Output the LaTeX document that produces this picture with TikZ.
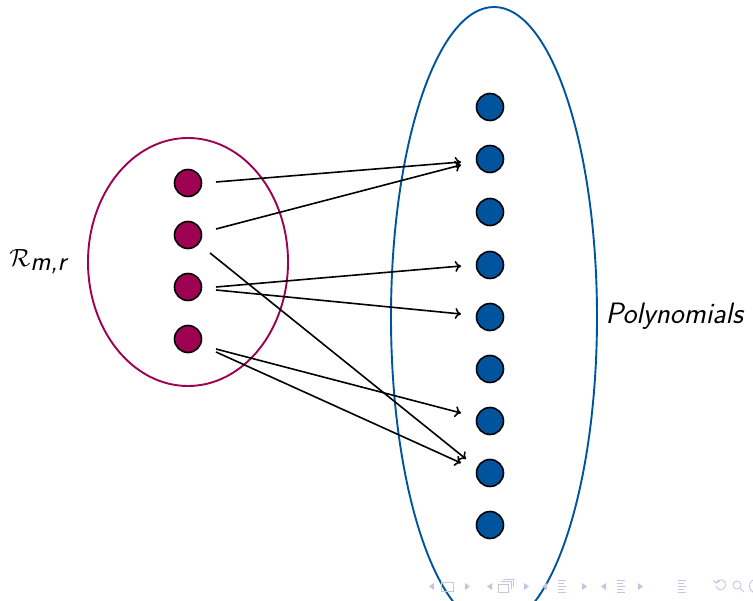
\documentclass[tikz,border=0pt]{standalone}
\usetikzlibrary{shapes.geometric,arrows.meta}
\definecolor{setred}{RGB}{158,0,82}
\definecolor{setblue}{RGB}{0,84,158}
\definecolor{navc}{RGB}{196,196,228}
\tikzset{
  setline/.style={ellipse,draw,line width=1.9pt,inner sep=0pt},
  dotnode/.style={circle,draw=black,line width=1.6pt,minimum size=27pt,inner sep=0pt},
  reddot/.style={dotnode,fill=setred},
  bluedot/.style={dotnode,fill=setblue},
  maparrow/.style={-{To[length=6pt,width=11pt]},line width=1.6pt,black},
  navsym/.style={navc,line width=0.9pt},
  labeltext/.style={font=\fontsize{27}{32}\selectfont\sffamily}
}
\begin{document}
\begin{tikzpicture}[x=1pt,y=-1pt]
\useasboundingbox (0,0) rectangle (753,601);

% the two sets
\node[setline,draw=setred,minimum width=200pt,minimum height=248pt] (R) at (188,262) {};
\node[setline,draw=setblue,minimum width=206pt,minimum height=620pt] (P) at (494,317) {};

% elements of R_{m,r}
\foreach \i/\y in {1/183,2/235,3/287,4/339}
  \node[reddot] (r\i) at (188,\y) {};

% polynomials
\foreach \i/\y in {1/107,2/159,3/212,4/265,5/317,6/369,7/421,8/473,9/525}
  \node[bluedot] (b\i) at (490,\y) {};

% set labels
\node[labeltext] (Rlab) at (38,262) {$\mathcal{R}_{\textsl{m,r}}$};
\node[labeltext,font=\fontsize{29.5}{34}\selectfont\sffamily,anchor=base west] (Plab) at (602,324) {\textsl{Polynomials}};

% the map
\draw[maparrow] ([shift={(28,-1)}]r1.center) -- ([shift={(-29,3)}]b2.center);
\draw[maparrow] ([shift={(28,-6)}]r2.center) -- ([shift={(-29,6)}]b2.center);
\draw[maparrow] ([shift={(22,18)}]r2.center) -- ([shift={(-24,-14)}]b8.center);
\draw[maparrow] ([shift={(28,0)}]r3.center) -- ([shift={(-29,1)}]b4.center);
\draw[maparrow] ([shift={(28,3)}]r3.center) -- ([shift={(-29,-3)}]b5.center);
\draw[maparrow] ([shift={(28,10)}]r4.center) -- ([shift={(-29,-8)}]b7.center);
\draw[maparrow] ([shift={(28,13)}]r4.center) -- ([shift={(-29,-10)}]b8.center);

% navigation symbols along the bottom edge
\begin{scope}[navsym]
  \fill (434,583) -- (429,586.5) -- (434,590) -- cycle;
  \draw (441,582) rectangle (453,591);
  \fill (465,583) -- (470,586.5) -- (465,590) -- cycle;
  \fill (492,583) -- (487,586.5) -- (492,590) -- cycle;
  \draw (498,584) rectangle (508,592);
  \draw (501,581.5) -- (511,581.5) -- (511,589) ;
  \draw (503,579) -- (513,579) -- (513,587);
  \fill (524,583) -- (529,586.5) -- (524,590) -- cycle;
  \fill (547,583) -- (542,586.5) -- (547,590) -- cycle;
  \foreach \yy/\w in {580/8,583/6,586/8,589/6,592/8}
    \draw (558,\yy) -- ++(\w,0);
  \fill (582,583) -- (587,586.5) -- (582,590) -- cycle;
  \fill (606,583) -- (601,586.5) -- (606,590) -- cycle;
  \foreach \yy/\w in {580/8,583/6,586/8,589/6,592/8}
    \draw (617,\yy) -- ++(\w,0);
  \fill (638,583) -- (643,586.5) -- (638,590) -- cycle;
  \foreach \yy/\w in {580/8,583/6,586/8,589/6,592/8}
    \draw (678,\yy) -- ++(\w,0);
  \draw (716,583) arc[start angle=160,end angle=-160,radius=5pt];
  \draw (713,580) -- (716,583) -- (720,581);
  \draw (737,585) circle[radius=4pt];
  \draw (740,588) -- (744,592);
  \draw (753,580) arc[start angle=120,end angle=240,radius=7pt];
\end{scope}
\end{tikzpicture}
\end{document}
